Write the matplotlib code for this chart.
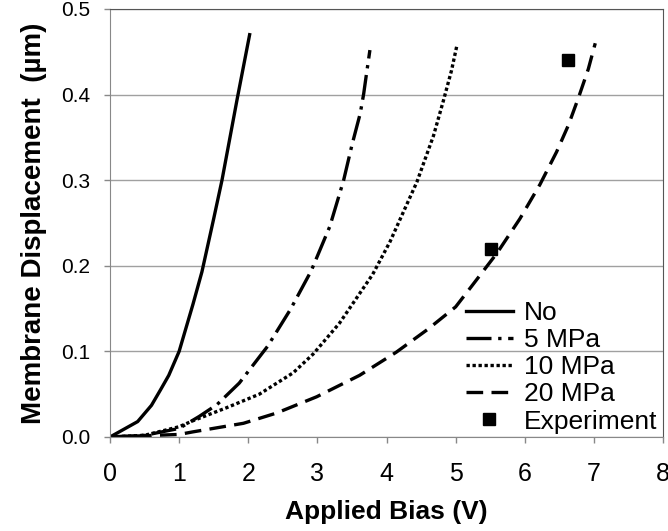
import matplotlib
matplotlib.use("Agg")
import matplotlib.pyplot as plt

plt.rcParams['font.family'] = ['Liberation Sans', 'DejaVu Sans']

# Data
no_x = [0, 0.4, 0.6, 0.73, 0.85, 1.0, 1.2, 1.33, 1.5, 1.62, 1.84, 2.02]
no_y = [0, 0.018, 0.037, 0.055, 0.072, 0.100, 0.155, 0.193, 0.255, 0.30, 0.395, 0.47]

mpa5_x = [0, 0.5, 1.0, 1.29, 1.55, 1.87, 2.28, 2.61, 2.91, 3.18, 3.38, 3.50, 3.62, 3.67, 3.71, 3.76]
mpa5_y = [0, 0.002, 0.01, 0.024, 0.038, 0.063, 0.106, 0.149, 0.194, 0.246, 0.30, 0.341, 0.378, 0.401, 0.424, 0.452]

mpa10_x = [0, 0.5, 1.0, 1.2, 1.68, 2.16, 2.65, 2.94, 3.32, 3.80, 4.05, 4.44, 4.68, 4.82, 4.94, 5.02]
mpa10_y = [0, 0.002, 0.012, 0.019, 0.034, 0.050, 0.075, 0.097, 0.133, 0.190, 0.228, 0.298, 0.352, 0.392, 0.428, 0.458]

mpa20_x = [0, 1.0, 1.2, 1.93, 2.41, 2.99, 3.61, 4.14, 4.6, 5.0, 5.23, 5.60, 5.93, 6.22, 6.46, 6.63, 6.78, 6.92, 7.02]
mpa20_y = [0, 0.003, 0.006, 0.016, 0.028, 0.047, 0.072, 0.099, 0.126, 0.152, 0.176, 0.215, 0.255, 0.295, 0.333, 0.364, 0.397, 0.43, 0.46]

exp_x = [5.51, 6.62]
exp_y = [0.220, 0.440]

x_ticks = [0, 1, 2, 3, 4, 5, 6, 7, 8]
y_ticks = [0.0, 0.1, 0.2, 0.3, 0.4, 0.5]
y_ticklabels = ['0.0', '0.1', '0.2', '0.3', '0.4', '0.5']

fig = plt.figure(figsize=(6.68, 5.31), dpi=100)
ax = fig.add_axes([110/668, 1 - 437/531, (663 - 110)/668, (437 - 9)/531])

lw = 2.4
ax.plot(no_x, no_y, color='black', lw=lw, linestyle='-', label='No')
ax.plot(mpa5_x, mpa5_y, color='black', lw=lw, linestyle=(0, (7.5, 2, 1, 2)), label='5 MPa')
ax.plot(mpa10_x, mpa10_y, color='black', lw=lw, linestyle=(0, (1, 0.8)), label='10 MPa')
ax.plot(mpa20_x, mpa20_y, color='black', lw=lw, linestyle=(0, (5, 2.5)), label='20 MPa')
ax.plot(exp_x, exp_y, linestyle='none', marker='s', color='black', markersize=8, label='Experiment')

ax.set_xlim(0, 8)
ax.set_ylim(0, 0.5)
ax.set_xticks(x_ticks)
ax.set_yticks(y_ticks)
ax.set_yticklabels(y_ticklabels)
ax.tick_params(axis='both', colors='#888888', labelcolor='black', length=4, width=1)
ax.tick_params(axis='x', labelsize=18, pad=14)
ax.tick_params(axis='y', labelsize=15, pad=10)
ax.grid(axis='y', color='#a0a0a0', lw=1)
ax.set_axisbelow(True)
for s in ['left', 'bottom']:
    ax.spines[s].set_color('#888888')
for s in ['top', 'right']:
    ax.spines[s].set_color('#555555')

ax.set_xlabel('Applied Bias (V)', fontsize=19, fontweight='bold', labelpad=10)
ax.set_ylabel('Membrane Displacement  (µm)', fontsize=20, fontweight='bold', labelpad=10)

leg = ax.legend(loc='lower right', bbox_to_anchor=(1.023, -0.035), frameon=False, fontsize=19,
                handlelength=1.8, handletextpad=0.4, labelspacing=0.12, borderpad=0.2)

fig.savefig('out.png', dpi=100)
